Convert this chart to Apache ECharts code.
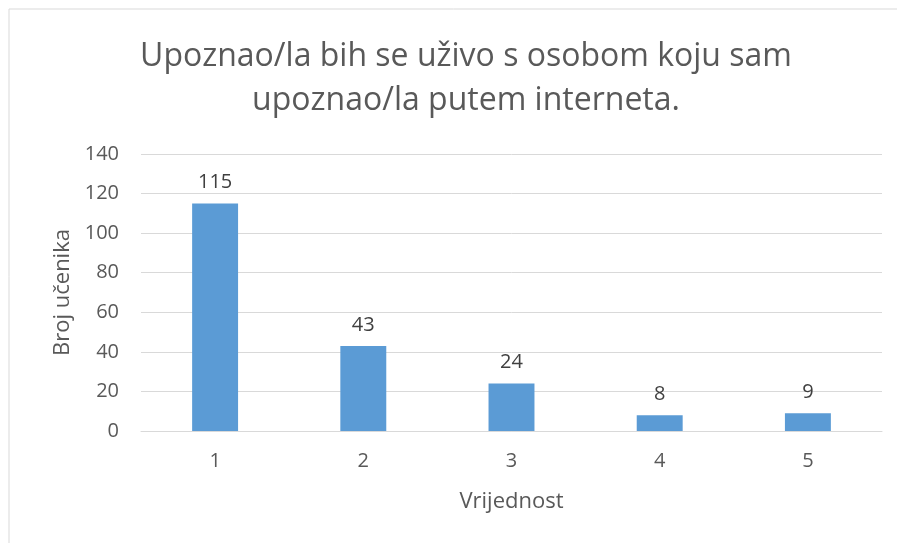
<!DOCTYPE html>
<html>
<head>
<meta charset="utf-8">
<script src="https://cdn.jsdelivr.net/npm/echarts@6/dist/echarts.min.js"></script>
<style>
  html, body { margin: 0; padding: 0; background: #fff; }
  #chart { width: 897px; height: 543px; }
</style>
</head>
<body>
<div id="chart"></div>
<script>
// data
const categories = ['1', '2', '3', '4', '5'];
const values = [115, 43, 24, 8, 9];
const titleText = 'Upoznao/la bih se uživo s osobom koju sam\nupoznao/la putem interneta.';

const chart = echarts.init(document.getElementById('chart'));
const font = 'Open Sans';

chart.setOption({
  backgroundColor: '#fff',
  textStyle: { fontFamily: font },
  graphic: [{
    type: 'rect',
    shape: { x: 9, y: 9, width: 900, height: 545 },
    style: { fill: 'none', stroke: '#d9d9d9', lineWidth: 1 },
    silent: true
  }],
  title: {
    text: titleText,
    left: 461,
    top: 30,
    textAlign: 'center',
    textStyle: {
      fontFamily: font,
      fontSize: 32,
      fontWeight: 'normal',
      color: '#595959',
      lineHeight: 44
    }
  },
  grid: { left: 141, right: 15, top: 154, bottom: 112 },
  xAxis: {
    type: 'category',
    data: categories,
    name: 'Vrijednost',
    nameLocation: 'middle',
    nameGap: 60,
    nameTextStyle: { fontSize: 22, color: '#595959', fontFamily: font },
    axisLine: { lineStyle: { color: '#d9d9d9', width: 1 } },
    axisTick: { show: false },
    axisLabel: { fontSize: 20, color: '#595959', margin: 20, fontFamily: font }
  },
  yAxis: {
    type: 'value',
    min: 0,
    max: 140,
    interval: 20,
    name: 'Broj učenika',
    nameLocation: 'middle',
    nameGap: 67,
    nameTextStyle: { fontSize: 22, color: '#595959', fontFamily: font },
    axisLine: { show: false },
    axisTick: { show: false },
    axisLabel: { fontSize: 20, color: '#595959', margin: 22, fontFamily: font },
    splitLine: { lineStyle: { color: '#d9d9d9', width: 1 } }
  },
  series: [{
    type: 'bar',
    data: values,
    barWidth: '31%',
    itemStyle: { color: '#5b9bd5' },
    label: {
      show: true,
      position: 'top',
      distance: 11,
      fontSize: 20,
      color: '#404040',
      fontFamily: font
    }
  }]
});
</script>
</body>
</html>
